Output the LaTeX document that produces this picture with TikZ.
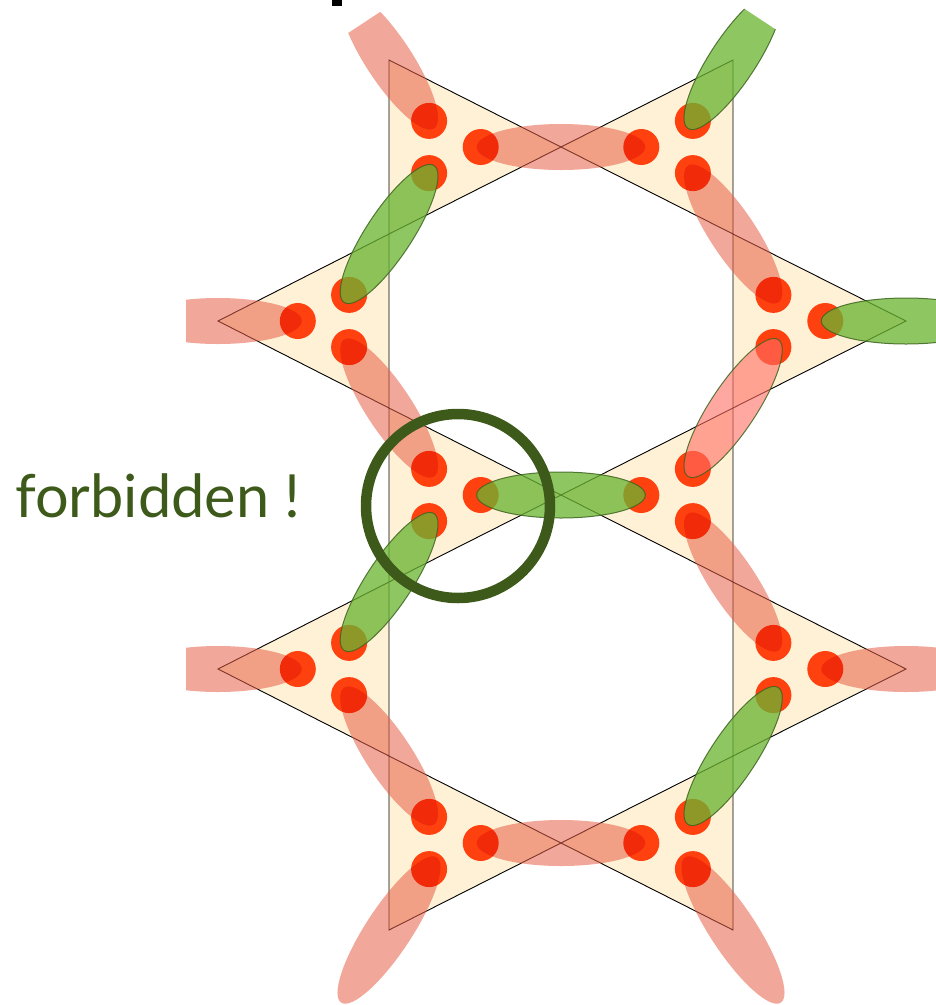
\documentclass[tikz,border=0pt]{standalone}
\usepackage{fontspec}
\setmainfont{Lato}
\usetikzlibrary{calc}
\definecolor{cream}{RGB}{255,241,214}
\definecolor{salmon}{RGB}{230,95,70}
\definecolor{dotred}{RGB}{255,68,19}
\definecolor{leaf}{RGB}{106,180,49}
\definecolor{leafline}{RGB}{62,100,32}
\definecolor{rosy}{RGB}{255,110,100}
\definecolor{forest}{RGB}{61,90,27}
\tikzset{
  tri/.style={fill=cream, draw=black, line width=0.9pt, line join=miter},
  pinkbond/.style={fill=salmon, fill opacity=0.55},
  greenbond/.style={fill=leaf, fill opacity=0.76, draw=leafline, draw opacity=0.85, line width=1pt},
  oddbond/.style={fill=rosy, fill opacity=0.6, draw=leafline, draw opacity=0.85, line width=1pt},
  spin/.style={fill=dotred},
}
% #1 style, #2 #3 end dots, #4 extension beyond the dots
\newcommand{\bondpath}[4]{%
  \path[#1] let \p1=($(#2)!-#4pt!(#3)$), \p2=($(#3)!-#4pt!(#2)$),
    \n1={atan2(\y2-\y1,\x2-\x1)}, \n2={veclen(\x2-\x1,\y2-\y1)/2} in
    ($(\p1)!0.5!(\p2)$) ellipse [x radius=\n2, y radius=23pt, rotate=\n1];
}
\begin{document}
\begin{tikzpicture}[x=1pt,y=-1pt]
\useasboundingbox (0,0) rectangle (936,1005);
\clip (0,0) rectangle (936,1005);
% spin positions
\coordinate (a1t) at (429.1,120.9); \coordinate (a1b) at (429.1,173.1); \coordinate (a1p) at (480.7,147);
\coordinate (c1t) at (692.9,120.9); \coordinate (c1b) at (692.9,173.1); \coordinate (c1p) at (641.3,147);
\coordinate (b1t) at (349.1,294.9); \coordinate (b1b) at (349.1,347.1); \coordinate (b1p) at (297.8,321);
\coordinate (d1t) at (773.4,294.9); \coordinate (d1b) at (773.4,347.1); \coordinate (d1p) at (825.3,321);
\coordinate (a2t) at (429.1,468.9); \coordinate (a2b) at (429.1,521.1); \coordinate (a2p) at (480.7,495);
\coordinate (c2t) at (692.9,468.9); \coordinate (c2b) at (692.9,521.1); \coordinate (c2p) at (641.3,495);
\coordinate (b2t) at (349.1,642.9); \coordinate (b2b) at (349.1,695.1); \coordinate (b2p) at (297.8,669);
\coordinate (d2t) at (773.4,642.9); \coordinate (d2b) at (773.4,695.1); \coordinate (d2p) at (825.3,669);
\coordinate (a3t) at (429.1,816.9); \coordinate (a3b) at (429.1,869.1); \coordinate (a3p) at (480.7,843);
\coordinate (c3t) at (692.9,816.9); \coordinate (c3b) at (692.9,869.1); \coordinate (c3p) at (641.3,843);
% partner spins outside the frame
\coordinate (vtl) at (348.9,-0.9); \coordinate (vtr) at (773.1,-0.9);
\coordinate (vl1) at (138.2,321); \coordinate (vr1) at (986.7,321);
\coordinate (vl2) at (138.2,669); \coordinate (vr2) at (986.7,669);
\coordinate (vbl) at (348.9,990.9); \coordinate (vbr) at (773.1,990.9);
% triangles
\filldraw[tri] (389,60) -- (389,234) -- (561,147) -- cycle;
\filldraw[tri] (733,60) -- (733,234) -- (561,147) -- cycle;
\filldraw[tri] (389,234) -- (389,408) -- (218,321) -- cycle;
\filldraw[tri] (733,234) -- (733,408) -- (906,321) -- cycle;
\filldraw[tri] (389,408) -- (389,582) -- (561,495) -- cycle;
\filldraw[tri] (733,408) -- (733,582) -- (561,495) -- cycle;
\filldraw[tri] (389,582) -- (389,756) -- (218,669) -- cycle;
\filldraw[tri] (733,582) -- (733,756) -- (906,669) -- cycle;
\filldraw[tri] (389,756) -- (389,930) -- (561,843) -- cycle;
\filldraw[tri] (733,756) -- (733,930) -- (561,843) -- cycle;
% pink bonds
\begin{scope}
  \clip[shift={(389,60)}, rotate=123.36] (-300pt,-100pt) rectangle (45pt,100pt);
  \bondpath{pinkbond}{a1t}{vtl}{9}
\end{scope}
\begin{scope}
  \clip[shift={(218,321)}, rotate=180] (-300pt,-100pt) rectangle (32pt,100pt);
  \bondpath{pinkbond}{b1p}{vl1}{4}
\end{scope}
\begin{scope}
  \clip[shift={(218,669)}, rotate=180] (-300pt,-100pt) rectangle (32pt,100pt);
  \bondpath{pinkbond}{b2p}{vl2}{4}
\end{scope}
\bondpath{pinkbond}{a1p}{c1p}{4}
\bondpath{pinkbond}{c1b}{d1t}{9}
\bondpath{pinkbond}{b1b}{a2t}{9}
\bondpath{pinkbond}{c2b}{d2t}{9}
\bondpath{pinkbond}{d2p}{vr2}{4}
\bondpath{pinkbond}{b2b}{a3t}{9}
\bondpath{pinkbond}{a3p}{c3p}{4}
\bondpath{pinkbond}{a3b}{vbl}{14}
\bondpath{pinkbond}{c3b}{vbr}{14}
% spins
\begin{scope}[blend mode=multiply]
\foreach \s in {a1t,a1b,a1p,c1t,c1b,c1p,b1t,b1b,b1p,d1t,d1b,d1p,a2t,a2b,a2p,c2t,c2b,c2p,b2t,b2b,b2p,d2t,d2b,d2p,a3t,a3b,a3p,c3t,c3b,c3p}
  \fill[spin] (\s) circle[radius=18pt];
\end{scope}
% green bonds
\begin{scope}
  \clip[shift={(733,60)}, rotate=56.64] (-300pt,-100pt) rectangle (49pt,100pt);
  \bondpath{greenbond}{c1t}{vtr}{9}
\end{scope}
\bondpath{greenbond}{a1b}{b1t}{9}
\bondpath{greenbond}{d1p}{vr1}{4}
\bondpath{greenbond}{a2p}{c2p}{4}
\bondpath{greenbond}{a2b}{b2t}{9}
\bondpath{greenbond}{d2b}{c3t}{9}
\bondpath{oddbond}{d1b}{c2t}{9}
% highlight
\node[circle, draw=forest, line width=10.5pt, minimum size=184pt, inner sep=0pt] (ring) at (458,506) {};
\node[anchor=base west, inner sep=0pt, text=forest, font=\fontsize{59.5}{62}\selectfont] (lbl) at (15,517) {forbidden !};
\fill[black] (332,0) rectangle (342,6);
\end{tikzpicture}
\end{document}
